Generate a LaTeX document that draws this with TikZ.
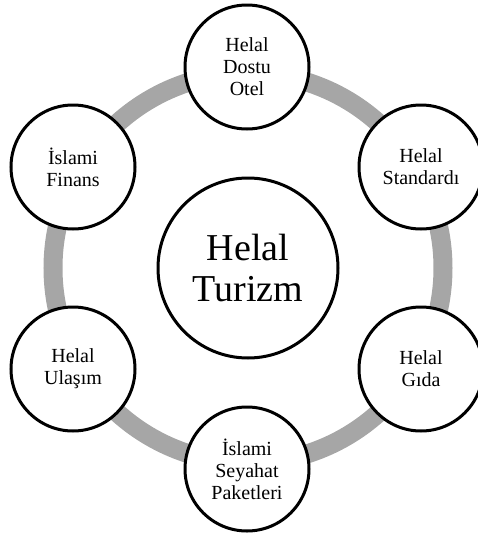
\documentclass[tikz,border=0pt]{standalone}
\usepackage{fontspec}
\setmainfont{Liberation Serif}
\begin{document}
\begin{tikzpicture}[x=1pt,y=-1pt,
  ringline/.style={draw=ringgray,line width=19pt},
  hubnode/.style={circle,draw=black,line width=3pt,fill=white,minimum size=180pt,
    inner sep=0pt,align=center,font=\fontsize{38}{41}\selectfont},
  topicnode/.style={circle,draw=black,line width=3pt,fill=white,minimum size=124pt,
    inner sep=0pt,align=center,font=\fontsize{20}{22}\selectfont}]
  \definecolor{ringgray}{RGB}{166,166,166}
  \useasboundingbox (0,0) rectangle (478,536);
  \clip (0,0) rectangle (478,536);
  % central topic
  \coordinate (c) at (248,268);
  % gray cycle ring behind the topic circles
  \draw[ringline] (c) circle (195pt);
  \node[hubnode] (hub) at (c) {Helal\\Turizm};
  % surrounding topics
  \node[topicnode] (otel)   at (247,67)  {Helal\\Dostu\\Otel};
  \node[topicnode] (std)    at (421,167) {Helal\\Standardı};
  \node[topicnode] (gida)   at (421,369) {Helal\\Gıda};
  \node[topicnode] (paket)  at (247,469) {İslami\\Seyahat\\Paketleri};
  \node[topicnode] (ulasim) at (73,369)  {Helal\\Ulaşım};
  \node[topicnode] (finans) at (73,167)  {İslami\\Finans};
\end{tikzpicture}
\end{document}
